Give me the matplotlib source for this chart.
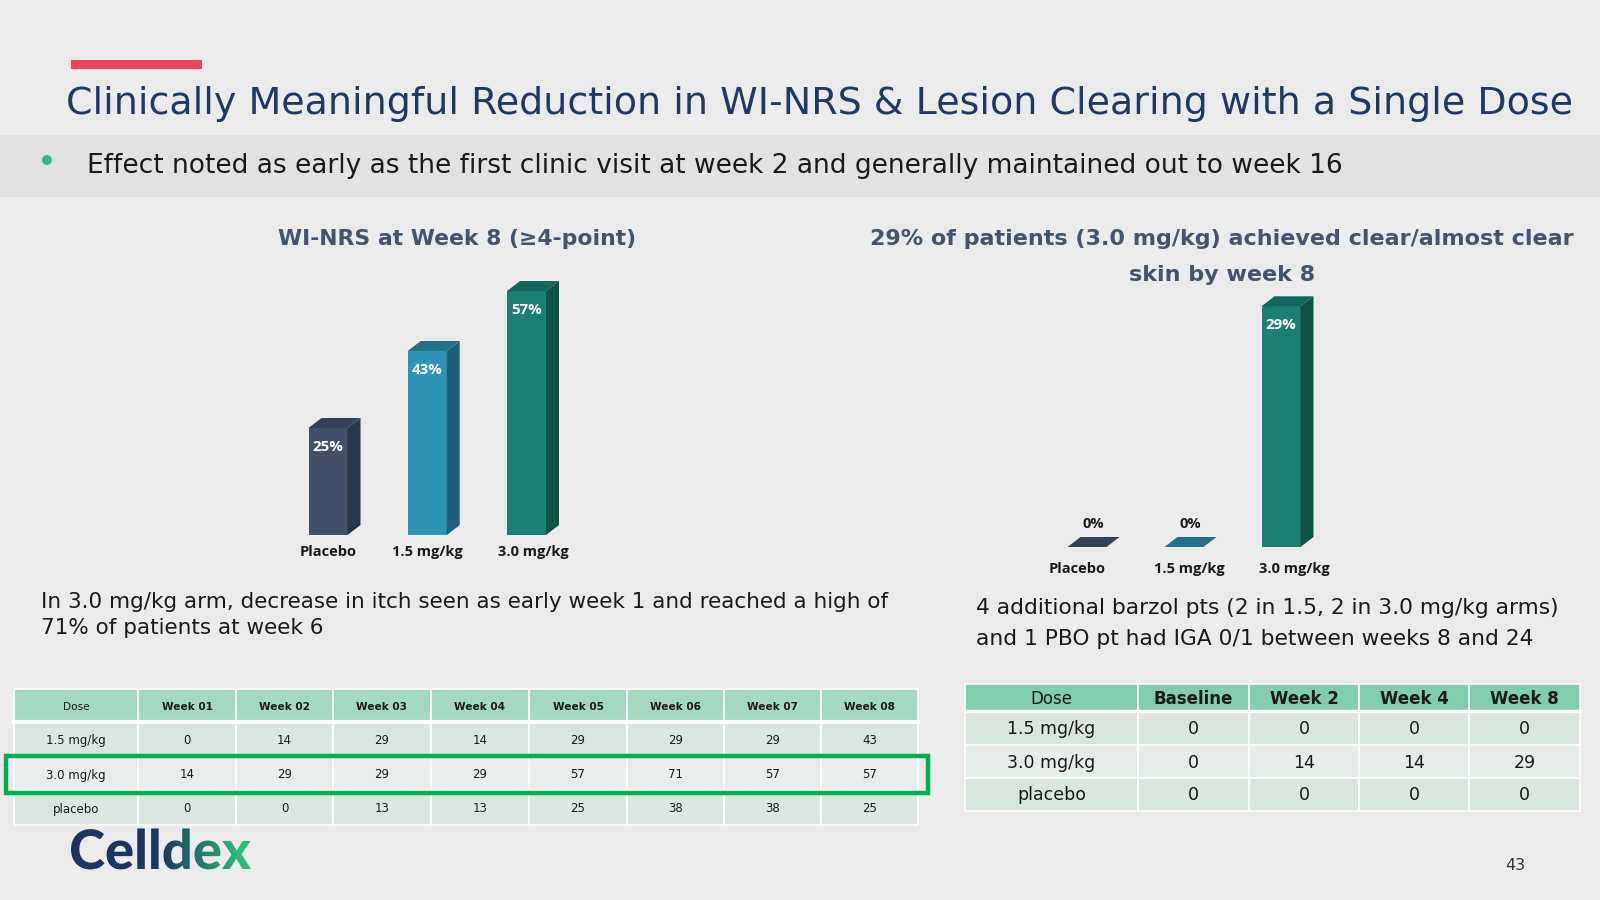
import matplotlib
matplotlib.use("Agg")
import matplotlib.pyplot as plt
import numpy as np
from matplotlib.patches import Rectangle, Polygon, Circle, PathPatch
from matplotlib.textpath import TextPath
from matplotlib.font_manager import FontProperties
from matplotlib.transforms import Affine2D

# ---------------- data ----------------
title = "Clinically Meaningful Reduction in WI-NRS & Lesion Clearing with a Single Dose"
bullet = "Effect noted as early as the first clinic visit at week 2 and generally maintained out to week 16"
left_title = "WI-NRS at Week 8 (≥4-point)"
right_title = ["29% of patients (3.0 mg/kg) achieved clear/almost clear", "skin by week 8"]
left_note = ["In 3.0 mg/kg arm, decrease in itch seen as early week 1 and reached a high of",
             "71% of patients at week 6"]
right_note = ["4 additional barzol pts (2 in 1.5, 2 in 3.0 mg/kg arms)",
              "and 1 PBO pt had IGA 0/1 between weeks 8 and 24"]

bar_categories = ["Placebo", "1.5 mg/kg", "3.0 mg/kg"]
winrs_week8 = [25, 43, 57]
clear_skin_week8 = [0, 0, 29]

itch_columns = ["Dose", "Week 01", "Week 02", "Week 03", "Week 04", "Week 05", "Week 06", "Week 07", "Week 08"]
dose_labels = ["1.5 mg/kg", "3.0 mg/kg", "placebo"]
itch_15 = [0, 14, 29, 14, 29, 29, 29, 43]
itch_30 = [14, 29, 29, 29, 57, 71, 57, 57]
itch_pbo = [0, 0, 13, 13, 25, 38, 38, 25]

iga_columns = ["Dose", "Baseline", "Week 2", "Week 4", "Week 8"]
iga_15 = [0, 0, 0, 0]
iga_30 = [0, 14, 14, 29]
iga_pbo = [0, 0, 0, 0]

page_number = "43"

# ---------------- style ----------------
BG = "#EBEBEB"
BAND = "#E1E2E4"
NAVY = "#1F3864"
SLATE = "#44546A"
TXT = "#1A1A1A"
FONT = "DejaVu Sans"
LBL_FONT = ["Open Sans", "DejaVu Sans"]

front_cols = ["#3F5068", "#2E94B7", "#1B7F71"]
side_cols = ["#2A3547", "#1E6079", "#115246"]
top_cols = ["#344257", "#237189", "#14665A"]

fig = plt.figure(figsize=(16, 9), dpi=100, facecolor=BG)
ax0 = fig.add_axes([0, 0, 1, 1])
ax0.set_xlim(0, 1600)
ax0.set_ylim(900, 0)
ax0.axis("off")
renderer = fig.canvas.get_renderer()


def fit_text(ax, x, y, s, target_w, ref=20, **kw):
    t = ax.text(x, y, s, fontsize=ref, **kw)
    w = t.get_window_extent(renderer).width
    t.set_fontsize(ref * target_w / w)
    return t


# header decoration
ax0.add_patch(Rectangle((71, 60), 131, 9, color="#EF4160", lw=0))
fit_text(ax0, 66, 114, title, 1506, color=NAVY, family=FONT, va="baseline", ha="left")
ax0.add_patch(Rectangle((0, 135), 1600, 62, color=BAND, lw=0))
ax0.add_patch(Circle((47, 160), 5, color="#33BB7F", lw=0))
fit_text(ax0, 87, 173, bullet, 1255, color=TXT, family=FONT, va="baseline", ha="left")

# chart titles
t = fit_text(ax0, 457, 245, left_title, 357, color=SLATE, family=FONT, weight="bold",
             va="baseline", ha="center")
t1 = fit_text(ax0, 1222, 245, right_title[0], 705, color=SLATE, family=FONT, weight="bold",
              va="baseline", ha="center")
ax0.text(1222, 281, right_title[1], fontsize=t1.get_fontsize(), color=SLATE, family=FONT,
         weight="bold", va="baseline", ha="center")

# notes
tl = fit_text(ax0, 41, 608, left_note[0], 848, color=TXT, family=FONT, va="baseline", ha="left")
ax0.text(41, 634, left_note[1], fontsize=tl.get_fontsize(), color=TXT, family=FONT, va="baseline")
tr = fit_text(ax0, 976, 614, right_note[0], 582, color=TXT, family=FONT, va="baseline", ha="left")
ax0.text(976, 645, right_note[1], fontsize=tr.get_fontsize(), color=TXT, family=FONT, va="baseline")


# ---------------- 3D-look bars ----------------
def bar_axes(x_center0, spacing, bottom_px, px_per_unit, ymax):
    left = x_center0 - spacing / 2
    width = spacing * 3
    height = ymax * px_per_unit
    ax = fig.add_axes([left / 1600, (900 - bottom_px) / 900, width / 1600, height / 900])
    ax.set_xlim(-0.5, 2.5)
    ax.set_ylim(0, ymax)
    ax.patch.set_alpha(0)
    for sp in ax.spines.values():
        sp.set_visible(False)
    ax.set_yticks([])
    return ax


def bars3d(ax, values, spacing_px, px_per_unit, label_shift_px, bar_px=39, dxp=13, dyp=10,
           label_pad=8):
    xs = np.arange(len(values))
    w = bar_px / spacing_px
    dx = dxp / spacing_px
    dy = dyp / px_per_unit
    ax.bar(xs, values, w, color=front_cols, lw=0, zorder=2)
    for x, v, sc, tc in zip(xs, values, side_cols, top_cols):
        r = x + w / 2
        l = x - w / 2
        ax.add_patch(Polygon([(r, 0), (r + dx, dy), (r + dx, v + dy), (r, v)], closed=True,
                             color=sc, lw=0, zorder=2, clip_on=False))
        ax.add_patch(Polygon([(l, v), (r, v), (r + dx, v + dy), (l + dx, v + dy)], closed=True,
                             color=tc, lw=0, zorder=3, clip_on=False))
        if v > 0:
            ax.annotate(f"{v}%", (x, v), xytext=(0, -13.5), textcoords="offset points",
                        ha="center", va="center", color="white", fontsize=10.8,
                        family=LBL_FONT, weight="bold")
        else:
            ax.annotate(f"{v}%", (x + dx / 2, v), xytext=(0, 16.5), textcoords="offset points",
                        ha="center", va="center", color=TXT, fontsize=10.5,
                        family=LBL_FONT, weight="bold")
    ticks = xs + np.array(label_shift_px) / spacing_px
    ax.set_xticks(ticks, bar_categories)
    ax.tick_params(axis="x", length=0, pad=label_pad)
    for lab in ax.get_xticklabels():
        lab.set_family(LBL_FONT)
        lab.set_fontweight("bold")
        lab.set_fontsize(10.5)
        lab.set_color(TXT)


axL = bar_axes(328, 99.25, 535, 4.28, 62)
bars3d(axL, winrs_week8, 99.25, 4.28, [0, 0, 7], label_pad=7)
axR = bar_axes(1087, 97, 547, 8.3, 32)
bars3d(axR, clear_skin_week8, 97, 8.3, [-10, 5, 13], label_pad=11)


# ---------------- tables ----------------
def draw_table(x_edges, y_edges, columns, rows, head_col, row_cols, hfs, bfs, gap_lw):
    for c, name in enumerate(columns):
        x0, x1 = x_edges[c], x_edges[c + 1]
        y0, y1 = y_edges[0], y_edges[1]
        ax0.add_patch(Rectangle((x0, y0), x1 - x0, y1 - y0, facecolor=head_col,
                                edgecolor="white", lw=1.2))
        ax0.text((x0 + x1) / 2, (y0 + y1) / 2 + 1, name, ha="center", va="center",
                 fontsize=hfs, family=FONT, color=TXT,
                 weight="normal" if c == 0 else "bold")
    for r, row in enumerate(rows):
        y0, y1 = y_edges[r + 1], y_edges[r + 2]
        for c, val in enumerate(row):
            x0, x1 = x_edges[c], x_edges[c + 1]
            ax0.add_patch(Rectangle((x0, y0), x1 - x0, y1 - y0, facecolor=row_cols[r],
                                    edgecolor="white", lw=1.2))
            ax0.text((x0 + x1) / 2, (y0 + y1) / 2 + 1, str(val), ha="center", va="center",
                     fontsize=bfs, family=FONT, color=TXT)
    ax0.plot([x_edges[0], x_edges[-1]], [y_edges[1], y_edges[1]], color="white", lw=gap_lw)


itch_rows = [[d] + vals for d, vals in zip(dose_labels, [itch_15, itch_30, itch_pbo])]
draw_table([14, 138, 236, 333, 431, 529, 627, 724, 821, 918],
           [689, 722, 757, 791, 825], itch_columns, itch_rows,
           "#A3D9C3", ["#DCE6E0", "#E8EDEA", "#DCE6E0"], 7.6, 8.5, 3)
ax0.add_patch(Rectangle((6, 756), 922, 37, fill=False, edgecolor="#00B050", lw=3.2))

iga_rows = [[d] + vals for d, vals in zip(dose_labels, [iga_15, iga_30, iga_pbo])]
draw_table([965, 1138, 1249, 1359, 1469, 1580],
           [684, 711, 745, 778, 811], iga_columns, iga_rows,
           "#80CEAD", ["#D9E6DE", "#E6ECE8", "#D9E6DE"], 12, 12.5, 2.5)

# ---------------- logo ----------------
fp = FontProperties(family="Lato", weight="black")
tp = TextPath((0, 0), "Celldex", size=100, prop=fp)
ext = tp.get_extents()
s = 180 / ext.width
tr_aff = Affine2D().translate(-ext.x0, 0).scale(s, -s).translate(71, 869)
logo_path = tr_aff.transform_path(tp)
patch = PathPatch(logo_path, facecolor="none", edgecolor="none", transform=ax0.transData)
ax0.add_patch(patch)
grad = np.linspace(0, 1, 256)
c0 = np.array([0x1D, 0x35, 0x60]) / 255
c1 = np.array([0x2C, 0xBE, 0x7C]) / 255
tt = np.clip((grad - 0.5) / 0.45, 0, 1)[None, :, None]
img = c0 * (1 - tt) + c1 * tt
img = np.repeat(img, 4, axis=0)
im = ax0.imshow(img, extent=[71, 251, 875, 825], aspect="auto", interpolation="bilinear", zorder=5)
im.set_clip_path(patch)
ax0.set_xlim(0, 1600)
ax0.set_ylim(900, 0)

ax0.text(1515, 865, page_number, ha="center", va="center", fontsize=11.5, family=FONT, color="#333333")

fig.savefig("out.png", dpi=100, facecolor=BG)
